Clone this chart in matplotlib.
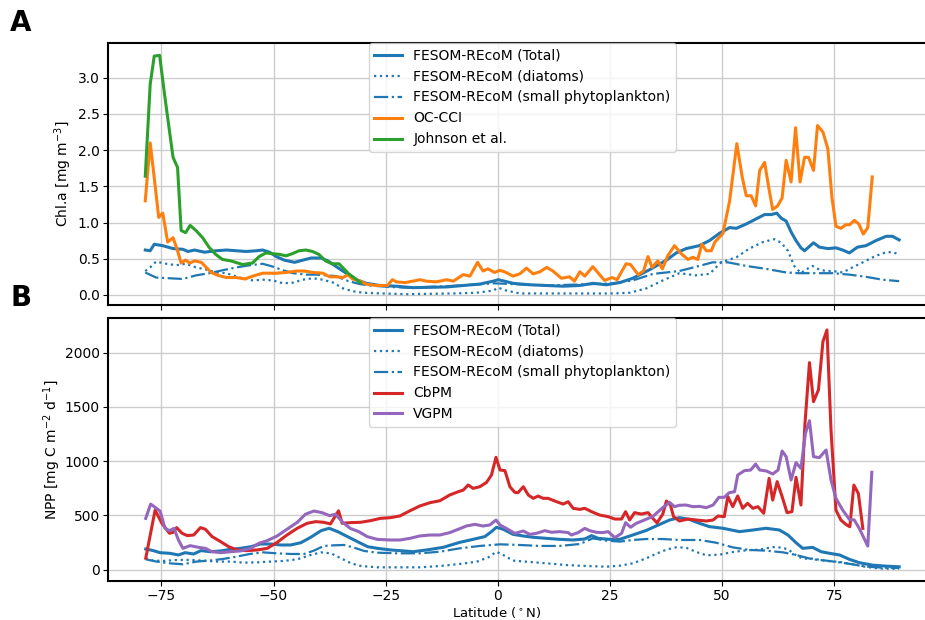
import numpy as np
import matplotlib
matplotlib.use('Agg')
import matplotlib.pyplot as plt

# --- Panel A: Chl.a [mg m-3] ---
chl_tot_lat = [-78.6,-77.5,-76.6,-74.7,-72.4,-70.2,-69.1,-67.6,-65.4,-62.8,-60.5,-58.3,-56.1,-53.8,-52.4,-50.9,
               -49.4,-47.6,-45.3,-43.5,-41.6,-39.4,-37.9,-36.0,-33.8,-31.5,-29.3,-26.3,-22.6,-18.9,-11.4,-4.0,
               -1.0,0.1,1.5,3.4,7.1,10.9,14.6,18.3,21.2,24.2,27.2,30.1,33.9,37.6,39.8,42.0,44.9,47.2,49.4,
               51.7,53.2,55.4,57.6,59.5,61.0,62.2,63.2,64.3,65.4,66.5,67.6,68.4,69.3,70.4,71.7,73.6,75.4,
               76.9,78.4,80.2,82.1,84.3,86.6,88.0,89.5]
chl_tot = [0.62,0.61,0.70,0.68,0.64,0.63,0.60,0.62,0.59,0.61,0.62,0.61,0.60,0.61,0.62,0.59,
           0.53,0.48,0.45,0.48,0.51,0.51,0.47,0.39,0.30,0.21,0.16,0.13,0.12,0.10,0.11,0.15,
           0.19,0.21,0.19,0.16,0.14,0.13,0.12,0.13,0.16,0.14,0.17,0.23,0.35,0.48,0.58,0.64,0.68,0.75,0.85,
           0.93,0.92,0.98,1.05,1.11,1.11,1.13,1.06,1.02,0.87,0.75,0.65,0.61,0.66,0.72,0.66,0.64,0.65,
           0.62,0.58,0.66,0.68,0.75,0.81,0.81,0.76]

chl_dia_lat = [-78.6,-77.5,-76.2,-73.9,-71.7,-69.5,-67.3,-65.0,-62.8,-60.5,-57.6,-54.6,-52.4,-50.1,-47.9,-45.6,
               -43.5,-41.2,-39.0,-36.7,-34.5,-32.3,-30.0,-25.6,-20.4,-10.0,-4.7,-1.0,0.1,1.9,4.9,15.0,25.7,
               29.4,33.1,36.8,40.5,44.1,47.2,49.8,53.2,56.1,59.1,61.7,63.2,64.7,66.1,67.6,68.7,70.2,71.7,
               73.2,74.7,76.9,79.1,81.4,84.3,86.6,88.0,89.5]
chl_dia = [0.33,0.38,0.46,0.43,0.41,0.43,0.38,0.35,0.31,0.30,0.24,0.20,0.21,0.20,0.16,0.17,
           0.21,0.23,0.21,0.17,0.09,0.05,0.03,0.02,0.01,0.02,0.03,0.06,0.10,0.06,0.02,0.02,0.02,
           0.03,0.09,0.20,0.30,0.27,0.29,0.45,0.52,0.64,0.73,0.77,0.72,0.61,0.40,0.30,0.35,0.40,0.35,
           0.33,0.33,0.31,0.38,0.45,0.54,0.59,0.59,0.56]

chl_sp_lat = [-78.6,-76.2,-73.2,-70.2,-67.3,-64.3,-61.4,-58.3,-55.3,-52.4,-50.1,-47.9,-45.6,-42.6,-40.5,-38.2,
              -36.0,-33.8,-30.8,-28.5,-24.1,-20.0,-11.4,-0.7,10.9,21.2,25.7,30.1,34.6,40.5,44.9,47.9,51.3,
              55.4,59.8,64.3,67.2,71.0,74.7,78.4,82.1,85.8,89.5]
chl_sp = [0.31,0.24,0.23,0.22,0.27,0.30,0.34,0.38,0.41,0.43,0.39,0.34,0.30,0.28,0.28,0.27,
          0.26,0.20,0.15,0.13,0.11,0.10,0.12,0.16,0.13,0.15,0.16,0.20,0.29,0.33,0.40,0.45,0.45,
          0.40,0.36,0.31,0.30,0.30,0.30,0.28,0.25,0.21,0.19]

occci_lat = [-78.6,-77.5,-76.6,-75.6,-74.7,-73.6,-72.4,-71.5,-70.6,-69.6,-68.7,-67.6,-66.1,-65.0,-63.9,-62.4,
             -60.5,-58.3,-56.4,-54.6,-52.4,-49.4,-47.2,-44.9,-43.1,-41.2,-39.0,-37.5,-36.0,-34.5,-33.4,-32.4,
             -31.0,-29.4,-27.2,-24.6,-23.5,-22.6,-20.7,-18.9,-17.4,-15.9,-13.7,-11.4,-9.9,-7.7,-6.2,-4.5,
             -3.3,-2.2,-0.7,0.4,1.5,3.4,4.9,6.4,7.9,9.4,10.9,12.3,14.2,16.0,17.1,18.3,19.4,21.2,22.7,23.8,
             25.5,26.6,28.6,29.6,31.3,32.5,33.5,34.4,35.7,36.7,37.9,39.4,40.9,42.4,43.5,44.6,45.5,46.5,
             47.6,48.4,50.2,51.7,53.3,54.5,55.4,56.5,57.5,58.4,59.5,60.4,61.3,62.4,63.4,64.3,65.4,66.4,
             67.4,68.4,69.3,70.4,71.3,72.5,73.6,74.5,75.4,76.5,77.6,78.5,79.5,80.5,81.5,82.5,83.5]
occci = [1.30,2.10,1.62,1.07,1.13,0.73,0.79,0.63,0.44,0.48,0.44,0.47,0.45,0.38,0.31,0.27,
         0.24,0.24,0.22,0.26,0.30,0.30,0.31,0.33,0.33,0.31,0.30,0.25,0.25,0.24,0.28,0.22,
         0.20,0.15,0.13,0.13,0.21,0.18,0.17,0.19,0.21,0.19,0.18,0.21,0.19,0.28,0.26,0.45,
         0.33,0.36,0.31,0.34,0.32,0.26,0.29,0.37,0.29,0.32,0.38,0.33,0.23,0.25,0.19,0.32,0.26,0.39,0.28,0.20,
         0.24,0.21,0.43,0.42,0.28,0.33,0.53,0.38,0.47,0.36,0.54,0.68,0.57,0.49,0.52,0.49,0.70,0.61,
         0.61,0.73,0.85,1.30,2.09,1.63,1.37,1.37,1.23,1.72,1.83,1.49,1.18,1.23,1.34,1.86,1.56,2.31,
         1.56,1.90,1.90,1.72,2.34,2.25,2.02,1.35,0.95,0.92,0.97,0.97,1.03,0.98,0.84,0.93,1.63]

johnson_lat = [-78.6,-77.5,-76.6,-75.4,-74.3,-73.3,-72.4,-71.4,-70.6,-69.6,-68.6,-67.3,-65.8,-64.4,-62.9,-61.4,
               -59.5,-56.9,-54.7,-53.2,-51.7,-50.3,-48.7,-47.2,-45.8,-44.3,-42.8,-41.3,-39.9,-38.4,-36.9,-35.4,
               -34.3,-33.2,-31.7,-30.6]
johnson = [1.64,2.91,3.30,3.31,2.77,2.31,1.90,1.76,0.89,0.86,0.96,0.89,0.79,0.66,0.56,0.49,
           0.47,0.42,0.44,0.53,0.58,0.57,0.56,0.54,0.57,0.61,0.62,0.60,0.56,0.47,0.43,0.43,
           0.36,0.29,0.22,0.17]

# --- Panel B: NPP [mg C m-2 d-1] ---
npp_tot_lat = [-78.5,-76.8,-75.3,-73.1,-71.2,-69.7,-67.8,-66.2,-64.1,-61.8,-59.6,-57.4,-55.1,-52.9,-50.6,-48.4,
               -46.2,-43.9,-41.7,-39.4,-37.6,-35.7,-33.5,-31.3,-29.0,-26.8,-23.9,-20.9,-18.9,-15.9,-12.2,-8.5,
               -5.5,-2.9,-1.4,-0.3,1.2,3.4,5.7,7.9,10.9,13.8,16.8,19.4,20.9,22.4,24.9,27.2,30.1,33.1,35.3,
               38.3,40.5,42.7,45.0,47.2,50.2,53.9,56.9,59.8,62.8,64.7,66.5,68.0,70.2,72.1,74.0,76.2,78.4,
               80.6,83.6,86.6,89.5]
npp_tot = [189,174,155,149,134,155,143,174,164,171,186,195,210,235,235,226,
           226,247,297,358,380,349,303,257,210,195,180,171,164,180,204,250,
           278,303,349,389,371,324,309,297,287,278,272,281,312,287,278,278,318,360,401,
           456,478,462,425,395,380,349,364,380,364,318,247,195,204,164,149,134,94,
           63,40,31,25]

npp_dia_lat = [-78.5,-76.8,-74.5,-71.6,-68.6,-65.6,-62.6,-59.6,-56.7,-53.7,-50.6,-47.7,-44.7,-41.7,-39.4,-37.2,
               -35.0,-32.7,-30.5,-26.8,-22.3,-17.4,-12.9,-8.5,-4.7,-2.1,-0.3,1.2,3.4,6.4,10.9,15.3,19.8,24.2,
               27.2,30.1,33.1,35.6,37.6,39.8,42.0,44.3,46.5,49.5,52.4,55.4,58.4,61.3,63.6,65.0,66.5,68.0,
               70.2,73.2,76.2,79.1,82.1,85.1,89.5]
npp_dia = [104,82,79,88,88,82,73,73,63,66,73,79,94,134,158,149,
           104,57,32,20,20,20,32,51,72,112,164,134,82,72,57,41,32,26,
           35,57,103,150,183,205,201,161,131,137,161,177,183,207,201,177,131,100,
           100,79,70,48,24,9,6]

npp_sp_lat = [-78.5,-76.1,-73.1,-70.2,-67.2,-64.3,-61.3,-58.3,-55.3,-52.3,-49.3,-46.2,-43.2,-41.0,-38.8,-36.5,
              -34.3,-32.0,-29.8,-26.8,-22.3,-17.4,-12.9,-8.5,-4.0,0.5,4.9,9.4,13.8,18.3,21.2,24.2,27.2,30.1,
              33.1,36.8,40.5,45.0,48.7,52.4,56.1,59.8,63.6,66.5,70.2,73.2,76.2,79.1,82.1,85.8,89.5]
npp_sp = [94,73,57,48,73,82,97,118,143,158,149,143,143,174,217,223,
          226,201,171,155,149,149,164,195,217,232,226,217,217,235,287,266,257,272,
          281,281,272,272,247,204,180,174,158,134,94,82,66,48,27,17,14]

cbpm_lat = [-78.5,-76.4,-74.9,-73.2,-72.4,-71.6,-70.4,-69.2,-67.8,-66.3,-65.2,-63.7,-61.8,-60.0,-58.1,-55.9,
            -53.7,-51.4,-49.2,-47.0,-44.7,-42.5,-40.6,-38.8,-37.3,-36.4,-35.5,-34.7,-32.9,-30.6,-28.4,-26.2,
            -23.9,-21.8,-19.6,-17.4,-15.1,-12.9,-10.7,-8.8,-7.7,-6.6,-5.5,-4.0,-2.5,-1.4,-0.4,0.5,1.6,2.7,
            3.8,4.5,5.7,6.8,7.9,9.0,10.1,11.2,13.1,14.6,15.7,16.8,18.3,19.4,20.9,22.7,24.6,26.1,27.6,28.5,
            29.4,30.5,32.0,33.5,34.6,35.5,36.8,37.6,38.5,39.2,40.5,42.4,44.3,46.5,48.0,49.1,50.5,51.3,52.4,
            53.5,54.6,55.7,56.9,58.0,59.3,60.5,61.3,62.3,63.4,64.5,65.6,66.5,67.6,68.5,69.5,70.4,71.5,72.5,
            73.4,74.3,75.4,76.5,77.6,78.5,79.4,80.4,81.4]
cbpm = [104,548,426,334,342,386,334,312,318,386,371,303,257,210,180,174,
        180,195,250,318,380,426,441,435,420,481,541,426,432,435,450,471,
        478,494,541,585,616,634,687,717,732,779,748,763,803,871,1034,917,911,763,
        711,708,763,687,656,677,656,656,625,603,625,564,554,564,533,502,487,465,465,533,
        456,524,511,524,471,430,511,631,594,487,447,465,456,447,456,493,487,672,579,
        678,564,610,564,579,518,840,640,810,672,524,533,850,594,1347,1907,1547,1655,2100,
        2208,1286,548,456,416,394,778,700,379]

vgpm_lat = [-78.5,-77.4,-75.3,-74.2,-73.2,-72.2,-71.2,-70.2,-68.6,-66.7,-65.2,-63.7,-61.8,-59.6,-57.4,-55.1,
            -53.3,-51.4,-49.2,-47.0,-44.7,-42.9,-41.0,-39.2,-37.5,-36.2,-34.7,-32.9,-31.0,-29.1,-26.9,-23.9,
            -21.8,-19.6,-17.4,-15.1,-12.9,-10.7,-8.8,-7.0,-5.1,-3.3,-1.8,-0.4,0.5,1.9,3.8,5.7,7.1,8.6,10.5,
            12.0,13.8,15.7,16.4,17.9,19.4,20.5,22.0,23.4,24.6,26.1,27.6,28.5,29.6,30.9,32.7,34.6,36.5,38.3,
            39.4,40.5,42.0,43.5,45.0,46.5,48.0,49.3,50.5,51.6,52.8,53.5,55.0,56.4,57.5,58.4,59.9,61.3,62.5,
            63.4,64.3,65.4,66.5,67.6,68.6,69.5,70.4,71.7,73.2,74.3,75.4,76.9,78.4,79.5,80.6,81.5,82.5,83.4]
vgpm = [471,603,539,379,358,379,272,195,220,204,195,164,155,164,171,195,
        241,266,309,371,435,509,539,524,496,509,441,379,349,303,278,272,
        272,287,309,318,318,340,371,401,416,401,410,456,410,379,333,355,324,333,358,
        343,349,340,318,340,379,358,343,340,349,294,333,432,389,426,456,490,560,619,
        579,592,594,579,582,570,594,665,665,708,717,871,911,917,972,917,908,880,917,
        1092,1040,825,985,932,1255,1371,1040,1031,1101,825,656,548,462,456,379,302,216,896]

xticks = [-75, -50, -25, 0, 25, 50, 75]
blue = '#1f77b4'
lw = 2.2

fig = plt.figure(figsize=(9.25, 6.2), dpi=100)
axA = fig.add_axes([0.1168, 0.508, 0.896, 0.4226])
axB = fig.add_axes([0.1168, 0.0629, 0.896, 0.4242])

axA.plot(chl_tot_lat, chl_tot, color=blue, lw=lw, label='FESOM-REcoM (Total)')
axA.plot(chl_dia_lat, chl_dia, color=blue, lw=1.6, ls=':', label='FESOM-REcoM (diatoms)')
axA.plot(chl_sp_lat, chl_sp, color=blue, lw=1.6, ls='-.', label='FESOM-REcoM (small phytoplankton)')
axA.plot(occci_lat, occci, color='#ff7f0e', lw=lw, label='OC-CCI')
axA.plot(johnson_lat, johnson, color='#2ca02c', lw=lw, label='Johnson et al.')
axA.set_ylim(-0.14, 3.48)
axA.set_yticks(np.arange(0, 3.01, 0.5))
axA.set_ylabel('Chl.a [mg m$^{-3}$]', fontsize=10)
axA.yaxis.set_label_coords(-0.041, 0.5)

axB.plot(npp_tot_lat, npp_tot, color=blue, lw=lw, label='FESOM-REcoM (Total)')
axB.plot(npp_dia_lat, npp_dia, color=blue, lw=1.6, ls=':', label='FESOM-REcoM (diatoms)')
axB.plot(npp_sp_lat, npp_sp, color=blue, lw=1.6, ls='-.', label='FESOM-REcoM (small phytoplankton)')
axB.plot(cbpm_lat, cbpm, color='#d62728', lw=lw, label='CbPM')
axB.plot(vgpm_lat, vgpm, color='#9467bd', lw=lw, label='VGPM')
axB.set_ylim(-106, 2318)
axB.set_yticks([0, 500, 1000, 1500, 2000])
axB.set_ylabel('NPP [mg C m$^{-2}$ d$^{-1}$]', fontsize=10)
axB.yaxis.set_label_coords(-0.054, 0.5)
axB.set_xlabel('Latitude ($^\\circ$N)', fontsize=9.5)
axB.xaxis.set_label_coords(0.469, -0.09)

for ax in (axA, axB):
    ax.set_xlim(-86.9, 97.9)
    ax.set_xticks(xticks)
    ax.grid(True, color='#cccccc', lw=1)
    ax.set_axisbelow(True)
    ax.tick_params(labelsize=10, pad=2.5)
    for s in ax.spines.values():
        s.set_linewidth(1.5)
    ax.legend(loc='upper center', fontsize=10, borderaxespad=0.0, framealpha=0.8)
axA.tick_params(labelbottom=False)

fig.text(0.011, 0.985, 'A', fontsize=20, fontweight='bold', va='top')
fig.text(0.011, 0.542, 'B', fontsize=20, fontweight='bold', va='top')

fig.savefig('out.png', dpi=100)
